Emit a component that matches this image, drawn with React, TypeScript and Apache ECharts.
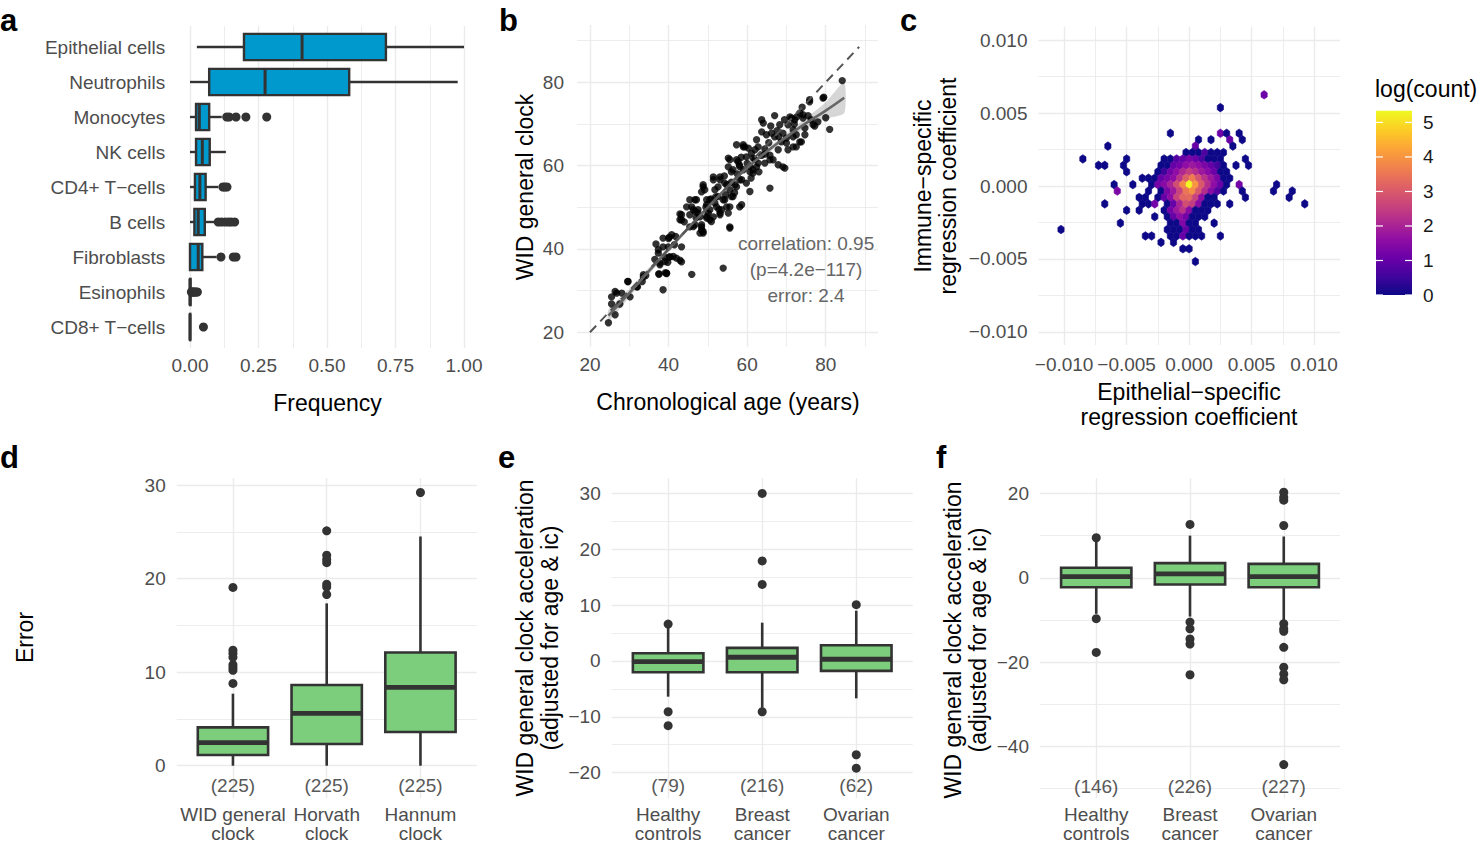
import React, { useEffect, useRef } from 'react';
import * as echarts from 'echarts';

const FONT = '"Liberation Sans", Arial, Helvetica, sans-serif';
const TICK_COLOR = '#4d4d4d';
const GRID_COLOR = '#ebebeb';
const BOX_LINE = '#333333';
const BLUE = '#0099cd';
const GREEN = '#7ccd7c';
const PLASMA = ['#0d0887', '#41049d', '#6a00a8', '#8f0da4', '#b12a90', '#cc4778', '#e16462', '#f2844b', '#fca636', '#fcce25', '#f0f921'];

// ---------- Panel a: cell-type frequencies ----------
const aCategories = ['Epithelial cells', 'Neutrophils', 'Monocytes', 'NK cells', 'CD4+ T\u2212cells', 'B cells', 'Fibroblasts', 'Esinophils', 'CD8+ T\u2212cells'];
const aLow = [0.025, 0.0, 0.0, 0.0, 0.0, 0.0, 0.0, 0.0, 0.0];
const aQ1 = [0.197, 0.07, 0.022, 0.022, 0.018, 0.016, 0.0, 0.0, 0.0];
const aMed = [0.409, 0.274, 0.034, 0.045, 0.036, 0.03, 0.03, 0.0, 0.0];
const aQ3 = [0.715, 0.581, 0.07, 0.072, 0.057, 0.054, 0.045, 0.002, 0.001];
const aHigh = [1.0, 0.977, 0.116, 0.131, 0.103, 0.091, 0.097, 0.004, 0.002];
const aOutliers = [
  [3, 0.134], [3, 0.143], [3, 0.168], [3, 0.204], [3, 0.28],
  [5, 0.12], [5, 0.127], [5, 0.135],
  [6, 0.103], [6, 0.115], [6, 0.128], [6, 0.14], [6, 0.15], [6, 0.163],
  [7, 0.113], [7, 0.158], [7, 0.168],
  [8, 0.005], [8, 0.008], [8, 0.011], [8, 0.014], [8, 0.018], [8, 0.022], [8, 0.027],
  [9, 0.049],
];
const aTicks = [0, 0.25, 0.5, 0.75, 1];
const aMinor = [0.125, 0.375, 0.625, 0.875];

// ---------- Panel b: WID general clock vs age ----------
const bAge = [24.7, 26.4, 25.5, 26.8, 29.7, 30.2, 32.1, 33.6, 38.6, 37.5, 39.2, 45.9, 38.6, 40.8, 37.4, 42.0, 43.3, 42.9, 37.8, 40.3, 42.9, 43.3, 45.9, 46.7, 48.4, 48.8, 48.4, 46.3, 47.5, 50.1, 51.4, 50.5, 51.8,
  84.2, 79.5, 75.9, 81.0, 77.2, 73.4, 72.6, 74.2, 71.3, 74.7, 70.4, 68.3, 63.7, 64.1, 63.7, 64.9, 66.2, 67.0, 68.7, 70.0, 71.7, 72.5, 70.4, 67.9, 73.8, 59.0, 60.3, 61.1, 62.0, 62.8, 59.8, 65.8, 66.6, 67.9, 69.6, 64.5, 55.2, 57.3, 58.1, 56.4, 59.0, 60.7, 61.5, 62.8, 65.8, 58.6, 55.6, 48.8, 51.4, 53.1, 52.6, 54.3, 55.6, 56.4, 53.9, 51.8, 50.5, 49.7, 53.1, 54.8, 57.3, 58.6, 59.8, 60.7, 48.4,
  53.9, 43.3, 40.2, 38.6, 37.4, 37.8, 41.2, 43.3, 39.5, 37.6, 29.6, 31.9, 28.1, 26.4, 25.5, 27.6, 34.2, 33.3, 69.1, 70.9, 71.7, 76.3, 76.8, 79.3, 75.9, 70.0, 71.7, 73.4, 69.1, 65.8, 63.7, 61.5, 59.0, 57.3, 55.6, 55.2, 55.6, 52.2, 49.7, 48.8, 51.4, 53.1, 45.4, 45.4, 47.5, 48.0, 44.6,
  39.0, 40.0, 41.5, 36.5, 44.0, 47.0, 49.5, 50.5, 52.0, 54.5, 56.0, 57.5, 58.5, 60.0, 61.0, 62.0, 63.0, 64.5, 65.5, 66.0, 67.0, 68.0, 69.5, 72.0, 74.0, 75.5, 78.0, 80.0, 36.8, 39.8, 41.8, 46.8, 50.8, 52.8, 54.2, 56.8, 58.0, 62.4, 64.6, 67.6,
  59.4, 57.7, 61.5, 62.4, 60.7, 56.0, 54.8, 56.9, 58.1, 49.2, 52.6, 54.3, 56.0, 58.1, 55.6, 53.5, 49.7, 47.1, 46.3, 48.0, 49.7, 50.9, 53.1, 55.2, 42.9, 45.4, 46.7, 48.4, 48.8, 39.9, 40.3, 39.1, 39.5, 33.6, 72.1, 74.2, 74.7, 72.5];
const bClock = [22.3, 24.2, 28.5, 29.4, 32.2, 28.5, 30.9, 33.3, 30.2, 34.0, 34.3, 33.9, 42.6, 43.4, 39.8, 37.8, 40.5, 37.3, 36.2, 38.1, 48.4, 47.0, 50.1, 51.8, 53.7, 55.4, 44.6, 45.4, 49.4, 48.6, 47.7, 51.8, 54.2,
  80.4, 76.4, 75.3, 68.7, 69.5, 72.6, 71.7, 71.4, 71.4, 69.0, 69.8, 69.8, 71.0, 70.2, 68.1, 67.4, 67.8, 66.9, 65.7, 66.6, 66.9, 64.5, 63.8, 63.8, 65.7, 65.0, 64.2, 63.0, 63.8, 64.5, 62.1, 62.5, 61.4, 60.2, 59.4, 60.6, 61.8, 61.4, 59.8, 59.0, 59.0, 59.8, 58.2, 60.6, 54.6, 50.6, 45.3, 43.8, 56.6, 57.3, 54.9, 55.8, 54.2, 52.6, 51.8, 51.0, 49.4, 47.8, 48.6, 50.1, 54.9, 56.6, 55.8, 53.8, 45.3,
  35.4, 48.2, 42.8, 40.5, 39.0, 36.6, 38.2, 36.9, 34.1, 34.0, 32.2, 30.9, 29.4, 29.8, 26.8, 26.8, 33.6, 32.2, 67.8, 71.7, 68.6, 71.0, 69.8, 76.2, 75.8, 65.4, 64.5, 65.7, 59.7, 61.4, 62.5, 59.0, 64.5, 65.0, 61.4, 59.7, 45.0, 50.1, 51.8, 54.9, 57.3, 56.6, 51.8, 45.3, 48.6, 43.8, 50.1,
  38.0, 42.5, 41.0, 37.5, 46.5, 47.5, 50.0, 47.0, 52.5, 53.0, 56.0, 58.0, 62.0, 60.5, 57.0, 61.5, 58.5, 64.0, 65.5, 69.5, 72.0, 67.0, 71.0, 70.0, 74.0, 72.0, 70.5, 71.5, 41.2, 36.8, 43.0, 49.0, 52.0, 49.5, 57.5, 53.5, 60.2, 66.2, 62.8, 68.4,
  64.5, 61.0, 61.8, 59.7, 58.5, 58.5, 55.4, 55.4, 56.6, 54.2, 52.6, 51.8, 52.6, 50.1, 50.1, 49.4, 50.6, 51.8, 49.4, 47.7, 47.4, 46.6, 48.2, 48.6, 47.0, 48.2, 45.8, 45.8, 44.2, 40.5, 38.1, 37.0, 34.2, 33.8, 71.0, 72.2, 67.4, 67.4];
const bFitX = [24.7, 30, 35, 40, 45, 50, 55, 60, 65, 70, 75, 80, 84.7];
const bFitY = [24.0, 29.4, 34.7, 39.9, 45.0, 50.0, 54.9, 59.5, 63.4, 66.9, 70.2, 73.2, 76.3];
const bBandLo = [22.6, 28.4, 33.9, 39.3, 44.5, 49.55, 54.45, 59.0, 62.8, 66.1, 69.0, 71.2, 72.6];
const bBandHi = [25.4, 30.4, 35.5, 40.5, 45.5, 50.45, 55.35, 60.0, 64.0, 67.7, 71.4, 75.2, 80.0];
const bIdentity = [[20, 20], [88.5, 88.5]];
const bTicks = [20, 40, 60, 80];
const bMinor = [30, 50, 70, 90];
const bAnnotation = 'correlation: 0.95\n(p=4.2e\u2212117)\nerror: 2.4';
const bAnnotationAt = [75, 35];

// ---------- Panel c: hexbin of regression coefficients ----------
const HEX_DX = 0.0005;
const HEX_DY = 0.00044;
const cHexCells = [
  [0.006, 0.00626, 1.1],
  [0.0025, 0.00538, 0],
  [-0.0015, 0.00362, 0], [0.0025, 0.00362, 1.1], [0.003, 0.00362, 0], [0.004, 0.00362, 0],
  [0.00075, 0.00318, 0], [0.00175, 0.00318, 0], [0.00325, 0.00318, 1.0], [0.00425, 0.00318, 0],
  [-0.0065, 0.00274, 0], [0.0005, 0.00274, 1.0], [0.0035, 0.00274, 0],
  [-0.00025, 0.0023, 0], [0.00025, 0.0023, 0], [0.00075, 0.0023, 0], [0.00125, 0.0023, 0.7], [0.00175, 0.0023, 0], [0.00225, 0.0023, 0], [0.00275, 0.0023, 0],
  [-0.0085, 0.00186, 0], [-0.005, 0.00186, 0], [-0.002, 0.00186, 0], [-0.0015, 0.00186, 0], [-0.001, 0.00186, 0.8], [-0.0005, 0.00186, 1.0], [0, 0.00186, 1.3], [0.0005, 0.00186, 1.1], [0.001, 0.00186, 0.7], [0.0015, 0.00186, 0], [0.002, 0.00186, 0], [0.0025, 0.00186, 0], [0.0045, 0.00186, 0],
  [-0.00725, 0.00142, 0], [-0.00675, 0.00142, 0], [-0.00525, 0.00142, 0], [-0.00225, 0.00142, 0], [-0.00175, 0.00142, 0], [-0.00125, 0.00142, 1.0], [-0.00075, 0.00142, 1.2], [-0.00025, 0.00142, 1.6], [0.00025, 0.00142, 1.8], [0.00075, 0.00142, 1.6], [0.00125, 0.00142, 1.3], [0.00175, 0.00142, 1.0], [0.00225, 0.00142, 0.6], [0.00275, 0.00142, 0], [0.00375, 0.00142, 0], [0.00475, 0.00142, 0],
  [-0.005, 0.00098, 0], [-0.0025, 0.00098, 0], [-0.002, 0.00098, 0.5], [-0.0015, 0.00098, 1.2], [-0.001, 0.00098, 1.6], [-0.0005, 0.00098, 2.1], [0, 0.00098, 2.5], [0.0005, 0.00098, 2.2], [0.001, 0.00098, 1.8], [0.0015, 0.00098, 1.5], [0.002, 0.00098, 1.1], [0.0025, 0.00098, 0], [0.003, 0.00098, 0],
  [-0.00375, 0.00054, 0], [-0.00325, 0.00054, 0], [-0.00275, 0.00054, 0], [-0.00225, 0.00054, 1.0], [-0.00175, 0.00054, 1.3], [-0.00125, 0.00054, 1.6], [-0.00075, 0.00054, 2.3], [-0.00025, 0.00054, 3.1], [0.00025, 0.00054, 3.6], [0.00075, 0.00054, 2.9], [0.00125, 0.00054, 2.3], [0.00175, 0.00054, 1.8], [0.00225, 0.00054, 1.3], [0.00275, 0.00054, 0], [0.00325, 0.00054, 0],
  [-0.006, 0.0001, 0], [-0.0045, 0.0001, 0], [-0.003, 0.0001, 0], [-0.0025, 0.0001, 1.2], [-0.002, 0.0001, 1.5], [-0.0015, 0.0001, 2.0], [-0.001, 0.0001, 2.8], [-0.0005, 0.0001, 3.8], [0, 0.0001, 5.34], [0.0005, 0.0001, 4.0], [0.001, 0.0001, 3.0], [0.0015, 0.0001, 2.2], [0.002, 0.0001, 1.6], [0.0025, 0.0001, 1.0], [0.003, 0.0001, 0], [0.004, 0.0001, 1.2], [0.007, 0.0001, 0],
  [-0.00575, -0.00034, 1.3], [-0.00325, -0.00034, 0], [-0.00225, -0.00034, 0], [-0.00175, -0.00034, 1.3], [-0.00125, -0.00034, 1.8], [-0.00075, -0.00034, 2.6], [-0.00025, -0.00034, 3.5], [0.00025, -0.00034, 3.9], [0.00075, -0.00034, 3.0], [0.00125, -0.00034, 2.2], [0.00175, -0.00034, 1.5], [0.00225, -0.00034, 0.8], [0.00275, -0.00034, 0], [0.00425, -0.00034, 0], [0.00675, -0.00034, 0], [0.00825, -0.00034, 0],
  [-0.004, -0.00078, 0], [-0.0035, -0.00078, 0], [-0.0025, -0.00078, 0], [-0.002, -0.00078, 1.0], [-0.0015, -0.00078, 1.6], [-0.001, -0.00078, 2.6], [-0.0005, -0.00078, 3.2], [0, -0.00078, 3.3], [0.0005, -0.00078, 2.6], [0.001, -0.00078, 1.6], [0.0015, -0.00078, 0], [0.002, -0.00078, 0], [0.0045, -0.00078, 0], [0.008, -0.00078, 0],
  [-0.00675, -0.00122, 0], [-0.00375, -0.00122, 0], [-0.00325, -0.00122, 0], [-0.00275, -0.00122, 1.2], [-0.00175, -0.00122, 0], [-0.00125, -0.00122, 1.0], [-0.00075, -0.00122, 2.0], [-0.00025, -0.00122, 2.8], [0.00025, -0.00122, 2.5], [0.00075, -0.00122, 1.5], [0.00125, -0.00122, 0], [0.00175, -0.00122, 0], [0.00225, -0.00122, 0], [0.00325, -0.00122, 0], [0.00925, -0.00122, 0],
  [-0.005, -0.00166, 0], [-0.004, -0.00166, 0], [-0.002, -0.00166, 0], [-0.0015, -0.00166, 1.2], [-0.001, -0.00166, 1.8], [-0.0005, -0.00166, 2.3], [0, -0.00166, 1.5], [0.0005, -0.00166, 0], [0.001, -0.00166, 0], [0.0015, -0.00166, 0],
  [-0.00275, -0.0021, 0], [-0.00175, -0.0021, 0], [-0.00125, -0.0021, 1.0], [-0.00075, -0.0021, 1.6], [-0.00025, -0.0021, 1.2], [0.00025, -0.0021, 0], [0.00075, -0.0021, 0], [0.00125, -0.0021, 0],
  [-0.0055, -0.00254, 0], [-0.0015, -0.00254, 0], [-0.001, -0.00254, 0], [-0.0005, -0.00254, 1.4], [0, -0.00254, 0], [0.0005, -0.00254, 0], [0.002, -0.00254, 0],
  [-0.01025, -0.00298, 0], [-0.00175, -0.00298, 0], [-0.00125, -0.00298, 0], [-0.00075, -0.00298, 0], [-0.00025, -0.00298, 1.0], [0.00025, -0.00298, 0], [0.00075, -0.00298, 0],
  [-0.0035, -0.00342, 0], [-0.003, -0.00342, 0], [-0.0015, -0.00342, 0], [-0.001, -0.00342, 0], [-0.0005, -0.00342, 1.0], [0, -0.00342, 0], [0.0005, -0.00342, 0], [0.001, -0.00342, 0], [0.0025, -0.00342, 0],
  [-0.00225, -0.00386, 0], [-0.00125, -0.00386, 0],
  [-0.0005, -0.0043, 0], [0, -0.0043, 0],
  [0.0005, -0.00518, 0],
];
const cTicks = [-0.01, -0.005, 0, 0.005, 0.01];
const cMinor = [-0.0075, -0.0025, 0.0025, 0.0075];
const cLegendTicks = [0, 1, 2, 3, 4, 5];
const cLogMax = 5.34;

// ---------- Panel d: clock errors ----------
const dCategories = ['WID general\nclock', 'Horvath\nclock', 'Hannum\nclock'];
const dLow = [0.0, 0.0, 0.0];
const dQ1 = [1.14, 2.32, 3.6];
const dMed = [2.46, 5.6, 8.37];
const dQ3 = [4.1, 8.62, 12.1];
const dHigh = [7.7, 17.35, 24.5];
const dOutliers = [
  [1, 8.8], [1, 10.2], [1, 10.5], [1, 10.8], [1, 11.6], [1, 12.0], [1, 12.35], [1, 19.06],
  [2, 18.3], [2, 19.1], [2, 19.4], [2, 21.7], [2, 22.05], [2, 22.5], [2, 25.1],
  [3, 29.2],
];
const dCounts = ['(225)', '(225)', '(225)'];
const dCountY = -2.1;
const dTicks = [0, 10, 20, 30];
const dMinor = [5, 15, 25];

// ---------- Panel e: acceleration (cohort 1) ----------
const eCategories = ['Healthy\ncontrols', 'Breast\ncancer', 'Ovarian\ncancer'];
const eLow = [-6.4, -8.4, -6.7];
const eQ1 = [-2.02, -2.02, -1.79];
const eMed = [-0.13, 0.66, 0.3];
const eQ3 = [1.38, 2.33, 2.8];
const eHigh = [6.1, 6.85, 9.0];
const eOutliers = [
  [1, 6.6], [1, -9.1], [1, -11.6],
  [2, 13.7], [2, 17.9], [2, 30.0], [2, -9.1],
  [3, 10.07], [3, -16.8], [3, -19.2],
];
const eCounts = ['(79)', '(216)', '(62)'];
const eCountY = -22.3;
const eTicks = [-20, -10, 0, 10, 20, 30];
const eMinor = [-15, -5, 5, 15, 25];

// ---------- Panel f: acceleration (cohort 2) ----------
const fCategories = ['Healthy\ncontrols', 'Breast\ncancer', 'Ovarian\ncancer'];
const fLow = [-8.55, -9.2, -10.1];
const fQ1 = [-2.23, -1.6, -2.23];
const fMed = [0.3, 0.95, 0.3];
const fQ3 = [2.38, 3.47, 3.3];
const fHigh = [8.9, 10.0, 9.8];
const fOutliers = [
  [1, 9.5], [1, -9.7], [1, -17.7],
  [2, 12.66], [2, -10.5], [2, -12.1], [2, -14.5], [2, -15.7], [2, -23.0],
  [3, 12.4], [3, 18.4], [3, 19.1], [3, 20.3], [3, -10.9], [3, -12.1], [3, -12.7], [3, -16.5], [3, -21.2], [3, -22.8], [3, -24.2], [3, -44.3],
];
const fCounts = ['(146)', '(226)', '(227)'];
const fCountY = -49.5;
const fTicks = [-40, -20, 0, 20];
const fMinor = [-50, -30, -10, 10];

// ---------- helpers ----------
const minusFmt = (s: string) => s.replace('-', '\u2212');
const fmt2 = (v: number) => v.toFixed(2);
const fmtInt = (v: number) => minusFmt(String(Math.round(v)));
const fmt3 = (v: number) => (v < -1e-9 ? '\u2212' : '') + Math.abs(v).toFixed(3);

function majorAxis(gridIndex: number, min: number, max: number, ticks: number[], formatter: (v: number) => string, labelExtra: any = {}, extra: any = {}) {
  return {
    type: 'value', gridIndex, min, max,
    axisLine: { show: false },
    axisTick: { show: false, customValues: ticks },
    axisLabel: { show: true, customValues: ticks, formatter, color: TICK_COLOR, fontSize: 19, fontFamily: FONT, margin: 10, hideOverlap: false, ...labelExtra },
    splitLine: { show: true, lineStyle: { color: GRID_COLOR, width: 1.4 } },
    minorTick: { show: false }, minorSplitLine: { show: false },
    ...extra,
  };
}
function minorAxis(gridIndex: number, min: number, max: number, ticks: number[], extra: any = {}) {
  return {
    type: 'value', gridIndex, min, max,
    axisLine: { show: false },
    axisTick: { show: false, customValues: ticks.length ? ticks : undefined },
    axisLabel: { show: false },
    splitLine: { show: ticks.length > 0, lineStyle: { color: GRID_COLOR, width: 0.9 } },
    ...extra,
  };
}

function boxSeries(g: number, horizontal: boolean, lows: number[], q1s: number[], meds: number[], q3s: number[], highs: number[], fill: string, lw: number, medW: number) {
  return {
    type: 'custom', xAxisIndex: 2 * g, yAxisIndex: 2 * g, silent: true,
    data: lows.map((lo, i) => [i + 1, lo, q1s[i], meds[i], q3s[i], highs[i]]),
    renderItem: (params: any, api: any) => {
      const c = api.value(0);
      const lo = api.value(1), q1 = api.value(2), md = api.value(3), q3 = api.value(4), hi = api.value(5);
      const half = 0.375;
      const pt = (cat: number, v: number) => (horizontal ? api.coord([v, cat]) : api.coord([cat, v]));
      const a1 = pt(c - half, q1), a2 = pt(c + half, q3);
      const m1 = pt(c - half, md), m2 = pt(c + half, md);
      const l1 = pt(c, lo), l2 = pt(c, q1), u1 = pt(c, q3), u2 = pt(c, hi);
      return {
        type: 'group',
        children: [
          { type: 'line', shape: { x1: l1[0], y1: l1[1], x2: l2[0], y2: l2[1] }, style: { stroke: BOX_LINE, lineWidth: lw } },
          { type: 'line', shape: { x1: u1[0], y1: u1[1], x2: u2[0], y2: u2[1] }, style: { stroke: BOX_LINE, lineWidth: lw } },
          { type: 'rect', shape: { x: Math.min(a1[0], a2[0]), y: Math.min(a1[1], a2[1]), width: Math.abs(a2[0] - a1[0]), height: Math.abs(a2[1] - a1[1]) }, style: { fill, stroke: BOX_LINE, lineWidth: lw } },
          { type: 'line', shape: { x1: m1[0], y1: m1[1], x2: m2[0], y2: m2[1] }, style: { stroke: BOX_LINE, lineWidth: medW } },
        ],
      };
    },
  };
}

function outlierSeries(g: number, data: number[][], size: number) {
  return {
    type: 'scatter', xAxisIndex: 2 * g, yAxisIndex: 2 * g, silent: true,
    symbol: 'circle', symbolSize: size, itemStyle: { color: BOX_LINE, opacity: 1 },
    data,
  };
}

function textSeries(g: number, xs: number[], ys: number[], labels: string[], color: string, size: number, lh: number) {
  return {
    type: 'custom', xAxisIndex: 2 * g, yAxisIndex: 2 * g, silent: true,
    data: xs.map((x, i) => [x, ys[i]]),
    renderItem: (params: any, api: any) => {
      const p = api.coord([api.value(0), api.value(1)]);
      return {
        type: 'text', x: p[0], y: p[1],
        style: { text: labels[params.dataIndex], fill: color, fontSize: size, fontFamily: FONT, align: 'center', verticalAlign: 'middle', textAlign: 'center', textVerticalAlign: 'middle', lineHeight: lh },
      };
    },
  };
}

function gText(x: number, y: number, text: string, o: any = {}) {
  const align = o.align || 'center';
  const va = o.va || 'middle';
  return {
    type: 'text', x, y, rotation: o.rotation || 0, silent: true,
    style: {
      text, fill: o.fill || '#000000', fontSize: o.size || 23, fontFamily: FONT, fontWeight: o.weight || 'normal',
      align, verticalAlign: va, textAlign: align, textVerticalAlign: va, lineHeight: o.lh || 25,
    },
  };
}

function buildOption() {
  const grids = [
    { left: 176.3, top: 26, width: 301.4, height: 322 },
    { left: 577, top: 25, width: 301, height: 321.7 },
    { left: 1038.5, top: 26.7, width: 301.5, height: 318.3 },
    { left: 176.7, top: 478, width: 300, height: 320 },
    { left: 611.7, top: 478.3, width: 301, height: 320 },
    { left: 1040, top: 478.3, width: 300, height: 320 },
  ].map((g) => ({ ...g, containLabel: false, outerBoundsMode: 'none', show: false }));

  const catFmt = (cats: string[]) => (v: number) => cats[Math.round(v) - 1] || '';
  const catLabel = { lineHeight: 19, margin: 7 };

  const xAxis = [
    majorAxis(0, -0.05, 1.05, aTicks, fmt2, { margin: 8 }),
    minorAxis(0, -0.05, 1.05, aMinor),
    majorAxis(1, 16.7, 93.3, bTicks, fmtInt, { margin: 8 }),
    minorAxis(1, 16.7, 93.3, bMinor),
    majorAxis(2, -0.01205, 0.01207, cTicks, fmt3),
    minorAxis(2, -0.01205, 0.01207, cMinor),
    majorAxis(3, 0.4, 3.6, [1, 2, 3], catFmt(dCategories), catLabel),
    minorAxis(3, 0.4, 3.6, []),
    majorAxis(4, 0.4, 3.6, [1, 2, 3], catFmt(eCategories), catLabel),
    minorAxis(4, 0.4, 3.6, []),
    majorAxis(5, 0.4, 3.6, [1, 2, 3], catFmt(fCategories), catLabel),
    minorAxis(5, 0.4, 3.6, []),
  ];
  const yAxis = [
    majorAxis(0, 0.4, 9.6, [1, 2, 3, 4, 5, 6, 7, 8, 9], catFmt(aCategories), { margin: 11 }, { inverse: true, splitLine: { show: false } }),
    minorAxis(0, 0.4, 9.6, [], { inverse: true }),
    majorAxis(1, 16.54, 93.75, bTicks, fmtInt, { margin: 13 }),
    minorAxis(1, 16.54, 93.75, bMinor),
    majorAxis(2, -0.0109, 0.01093, cTicks, fmt3, { margin: 11 }),
    minorAxis(2, -0.0109, 0.01093, cMinor),
    majorAxis(3, -3.45, 30.75, dTicks, fmtInt, { margin: 11 }),
    minorAxis(3, -3.45, 30.75, dMinor),
    majorAxis(4, -24.6, 32.7, eTicks, fmtInt, { margin: 11 }),
    minorAxis(4, -24.6, 32.7, eMinor),
    majorAxis(5, -52.3, 23.6, fTicks, fmtInt, { margin: 11 }),
    minorAxis(5, -52.3, 23.6, fMinor),
  ];

  const series: any[] = [];
  // a
  series.push(boxSeries(0, true, aLow, aQ1, aMed, aQ3, aHigh, BLUE, 2.4, 3));
  series.push(outlierSeries(0, aOutliers.map(([c, v]) => [v, c]), 9));
  // b
  series.push({
    type: 'scatter', xAxisIndex: 2, yAxisIndex: 2, silent: true, symbolSize: 7.4,
    itemStyle: { color: '#000000' }, data: bAge.map((x, i) => [x, bClock[i]]),
  });
  series.push({
    type: 'custom', xAxisIndex: 2, yAxisIndex: 2, silent: true,
    data: bFitX.map((x, i) => [x, bBandLo[i], bBandHi[i]]),
    renderItem: (params: any, api: any) => {
      if (params.dataIndex !== 0) return null;
      const pts: number[][] = [];
      for (let i = 0; i < bFitX.length; i++) pts.push(api.coord([bFitX[i], bBandLo[i]]));
      for (let i = bFitX.length - 1; i >= 0; i--) pts.push(api.coord([bFitX[i], bBandHi[i]]));
      return { type: 'polygon', shape: { points: pts, smooth: 0.2 }, style: { fill: 'rgba(153,153,153,0.4)' } };
    },
  });
  series.push({
    type: 'line', xAxisIndex: 2, yAxisIndex: 2, silent: true, smooth: true, showSymbol: false, symbol: 'none',
    lineStyle: { color: '#666666', width: 2.6 }, data: bFitX.map((x, i) => [x, bFitY[i]]),
  });
  series.push({
    type: 'line', xAxisIndex: 2, yAxisIndex: 2, silent: true, showSymbol: false, symbol: 'none',
    lineStyle: { color: '#555555', width: 2, type: [9, 6] }, data: bIdentity,
  });
  series.push(textSeries(1, [bAnnotationAt[0]], [bAnnotationAt[1]], [bAnnotation], '#666666', 19, 26));
  // c
  const hexIndex = series.length;
  series.push({
    type: 'custom', xAxisIndex: 4, yAxisIndex: 4, silent: true,
    data: cHexCells,
    renderItem: (params: any, api: any) => {
      const p = api.coord([api.value(0), api.value(1)]);
      const w = api.size([HEX_DX, 0])[0];
      const h = (api.size([0, HEX_DY])[1] * 4) / 3;
      const color = api.visual('color');
      const pts = [
        [p[0], p[1] - h / 2], [p[0] + w / 2, p[1] - h / 4], [p[0] + w / 2, p[1] + h / 4],
        [p[0], p[1] + h / 2], [p[0] - w / 2, p[1] + h / 4], [p[0] - w / 2, p[1] - h / 4],
      ];
      return { type: 'polygon', shape: { points: pts }, style: { fill: color, stroke: color, lineWidth: 0.6 } };
    },
  });
  // d
  series.push(boxSeries(3, false, dLow, dQ1, dMed, dQ3, dHigh, GREEN, 2.6, 4.8));
  series.push(outlierSeries(3, dOutliers, 9));
  series.push(textSeries(3, [1, 2, 3], [dCountY, dCountY, dCountY], dCounts, '#595959', 19, 20));
  // e
  series.push(boxSeries(4, false, eLow, eQ1, eMed, eQ3, eHigh, GREEN, 2.6, 4.8));
  series.push(outlierSeries(4, eOutliers, 9));
  series.push(textSeries(4, [1, 2, 3], [eCountY, eCountY, eCountY], eCounts, '#595959', 19, 20));
  // f
  series.push(boxSeries(5, false, fLow, fQ1, fMed, fQ3, fHigh, GREEN, 2.6, 4.8));
  series.push(outlierSeries(5, fOutliers, 9));
  series.push(textSeries(5, [1, 2, 3], [fCountY, fCountY, fCountY], fCounts, '#595959', 19, 20));

  // colour bar legend for panel c
  const barX = 1376, barTop = 110.7, barBottom = 295, barW = 36;
  const valToY = (v: number) => barBottom - (v / cLogMax) * (barBottom - barTop);
  const legend: any[] = [
    gText(1375, 89, 'log(count)', { align: 'left', size: 23 }),
    {
      type: 'rect', silent: true,
      shape: { x: barX, y: barTop, width: barW, height: barBottom - barTop },
      style: { fill: { type: 'linear', x: 0, y: 1, x2: 0, y2: 0, colorStops: PLASMA.map((c, i) => ({ offset: i / (PLASMA.length - 1), color: c })) } },
    },
  ];
  cLegendTicks.forEach((t) => {
    const y = valToY(t);
    legend.push({ type: 'line', silent: true, shape: { x1: barX, y1: y, x2: barX + 7, y2: y }, style: { stroke: '#ffffff', lineWidth: 1.2 } });
    legend.push({ type: 'line', silent: true, shape: { x1: barX + barW - 7, y1: y, x2: barX + barW, y2: y }, style: { stroke: '#ffffff', lineWidth: 1.2 } });
    legend.push(gText(barX + barW + 11, y, String(t), { align: 'left', size: 19, fill: '#1a1a1a' }));
  });

  const R = Math.PI / 2;
  const graphic = [
    gText(0, 20, 'a', { align: 'left', size: 31, weight: 'bold' }),
    gText(499, 20, 'b', { align: 'left', size: 31, weight: 'bold' }),
    gText(900, 20, 'c', { align: 'left', size: 31, weight: 'bold' }),
    gText(0, 457, 'd', { align: 'left', size: 31, weight: 'bold' }),
    gText(498, 457, 'e', { align: 'left', size: 31, weight: 'bold' }),
    gText(936, 457, 'f', { align: 'left', size: 31, weight: 'bold' }),
    gText(327.5, 402.7, 'Frequency'),
    gText(728, 402, 'Chronological age (years)'),
    gText(1189, 404, 'Epithelial\u2212specific\nregression coefficient', { lh: 25 }),
    gText(525, 187, 'WID general clock', { rotation: R }),
    gText(935.5, 186, 'Immune\u2212specific\nregression coefficient', { rotation: R, lh: 25 }),
    gText(25.3, 637.5, 'Error', { rotation: R }),
    gText(537.5, 638, 'WID general clock acceleration\n(adjusted for age & ic)', { rotation: R, lh: 25 }),
    gText(965.5, 640, 'WID general clock acceleration\n(adjusted for age & ic)', { rotation: R, lh: 25 }),
    ...legend,
  ];

  return {
    animation: false,
    backgroundColor: '#ffffff',
    textStyle: { fontFamily: FONT },
    grid: grids,
    xAxis,
    yAxis,
    visualMap: [{
      type: 'continuous', show: false, seriesIndex: hexIndex, dimension: 2, min: 0, max: cLogMax,
      inRange: { color: PLASMA },
    }],
    series,
    graphic,
  };
}

export default function App() {
  const ref = useRef<HTMLDivElement>(null);
  useEffect(() => {
    if (!ref.current) return;
    const chart = echarts.init(ref.current, null, { renderer: 'svg' });
    chart.setOption(buildOption() as any);
    return () => chart.dispose();
  }, []);
  return <div ref={ref} style={{ position: 'fixed', left: 0, top: 0, width: 1479, height: 844, background: '#ffffff' }} />;
}
